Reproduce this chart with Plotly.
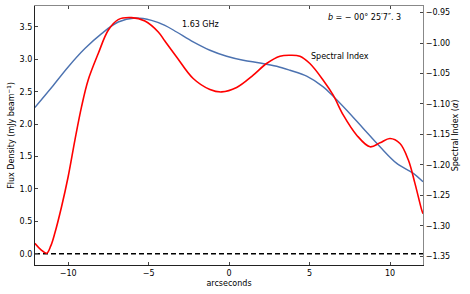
import plotly.graph_objects as go

# Flux density at 1.63 GHz (left axis)
flux_x = [-12.07, -11.03, -10.0, -8.96, -7.92, -6.89, -5.85, -4.82, -3.99, -3.26, -2.23, -1.19,
          -0.15, 0.88, 1.92, 2.96, 3.78, 4.82, 5.85, 6.47, 7.31, 8.34, 9.38, 10.42, 11.45, 12.05]
flux_y = [2.257, 2.566, 2.883, 3.167, 3.398, 3.577, 3.639, 3.603, 3.526, 3.423, 3.269, 3.141,
          3.048, 2.986, 2.945, 2.894, 2.832, 2.740, 2.575, 2.431, 2.215, 1.933, 1.650, 1.394, 1.240, 1.110]

# Spectral index (right axis)
alpha_x = [-12.07, -11.70, -11.34, -11.08, -10.83, -10.41, -10.0, -9.58, -9.17, -8.76, -8.13, -7.51,
           -6.89, -6.06, -5.23, -4.40, -3.99, -3.26, -2.23, -1.19, -0.46, 0.47, 1.50, 2.33, 3.16,
           3.78, 4.40, 5.02, 5.85, 6.47, 7.10, 7.93, 8.76, 9.38, 10.0, 10.62, 11.14, 11.55, 11.97, 12.05]
alpha_y = [-1.3287, -1.3390, -1.3451, -1.3330, -1.3123, -1.2687, -1.2195, -1.1593, -1.1048, -1.0610,
           -1.0172, -0.9790, -0.9615, -0.9582, -0.9638, -0.9818, -0.9966, -1.0228, -1.0582, -1.0762,
           -1.0802, -1.0730, -1.0528, -1.0336, -1.0216, -1.0200, -1.0216, -1.0336, -1.0610, -1.0856,
           -1.1184, -1.1512, -1.1703, -1.1638, -1.1566, -1.1648, -1.1921, -1.2303, -1.2741, -1.2800]

zero_x = [-12.06, 12.05]
zero_y = [0.0, 0.0]

x_ticks = [-10, -5, 0, 5, 10]
left_ticks = [0.0, 0.5, 1.0, 1.5, 2.0, 2.5, 3.0, 3.5]
right_ticks = [-0.95, -1.00, -1.05, -1.10, -1.15, -1.20, -1.25, -1.30, -1.35]

FONT = "DejaVu Sans"

fig = go.Figure()
fig.add_trace(go.Scatter(x=zero_x, y=zero_y, mode="lines",
                         line=dict(color="black", width=1.3, dash="5px,3px"), showlegend=False))
fig.add_trace(go.Scatter(x=flux_x, y=flux_y, mode="lines", line_shape="spline",
                         line=dict(color="#4C72B0", width=1.4, smoothing=1.0), showlegend=False))
fig.add_trace(go.Scatter(x=alpha_x, y=alpha_y, mode="lines", line_shape="spline",
                         line=dict(color="#FF0000", width=1.6, smoothing=1.0), yaxis="y2",
                         showlegend=False))
# invisible trace to activate top axis
fig.add_trace(go.Scatter(x=zero_x, y=zero_y, mode="lines", xaxis="x2",
                         line=dict(width=0), hoverinfo="skip", showlegend=False))

fig.update_layout(
    width=470, height=294,
    margin=dict(l=35, r=47, t=6, b=29),
    paper_bgcolor="white", plot_bgcolor="white",
    font=dict(family=FONT, size=8, color="black"),
    xaxis=dict(range=[-12.06, 12.05], tickvals=x_ticks, ticks="inside", ticklen=3,
               showline=True, linecolor="#222", linewidth=1.2, showgrid=False, zeroline=False,
               automargin=False,
               title=dict(text="arcseconds", font=dict(size=8), standoff=3),
               tickfont=dict(size=8)),
    xaxis2=dict(range=[-12.06, 12.05], overlaying="x", side="top", tickvals=x_ticks,
                ticks="inside", ticklen=3, showticklabels=False, showline=True, automargin=False,
                linecolor="#888", linewidth=1.2, showgrid=False, zeroline=False, tickcolor="#444"),
    yaxis=dict(range=[-0.174, 3.824], tickvals=left_ticks, tickformat=".1f", ticks="inside",
               ticklen=3, showline=True, linecolor="#222", linewidth=1.2, showgrid=False,
               zeroline=False, automargin=False,
               title=dict(text="Flux Density (mJy beam<sup>−1</sup>)", font=dict(size=8), standoff=3),
               tickfont=dict(size=8)),
    yaxis2=dict(range=[-1.3643, -0.9392], overlaying="y", side="right", tickvals=right_ticks,
                tickformat=".2f", ticks="inside", ticklen=3, showline=True, linecolor="#888",
                linewidth=1.2, showgrid=False, zeroline=False, tickcolor="#444", automargin=False,
                title=dict(text="Spectral Index (<i>α</i>)", font=dict(size=8), standoff=3),
                tickfont=dict(size=8)),
)

fig.add_annotation(x=-1.8, y=3.54, xref="x", yref="y", text="1.63 GHz", showarrow=False,
                   font=dict(size=8, family=FONT))
fig.add_annotation(x=6.9, y=3.04, xref="x", yref="y", text="Spectral Index", showarrow=False,
                   font=dict(size=8, family=FONT))
fig.add_annotation(x=8.42, y=3.65, xref="x", yref="y",
                   text="<i>b</i> = − 00° 25′7″. 3", showarrow=False,
                   font=dict(size=8, family=FONT))

fig.write_html("out.html", config={"displayModeBar": False},
               post_script="document.body.style.margin='0';document.body.style.padding='0';")
